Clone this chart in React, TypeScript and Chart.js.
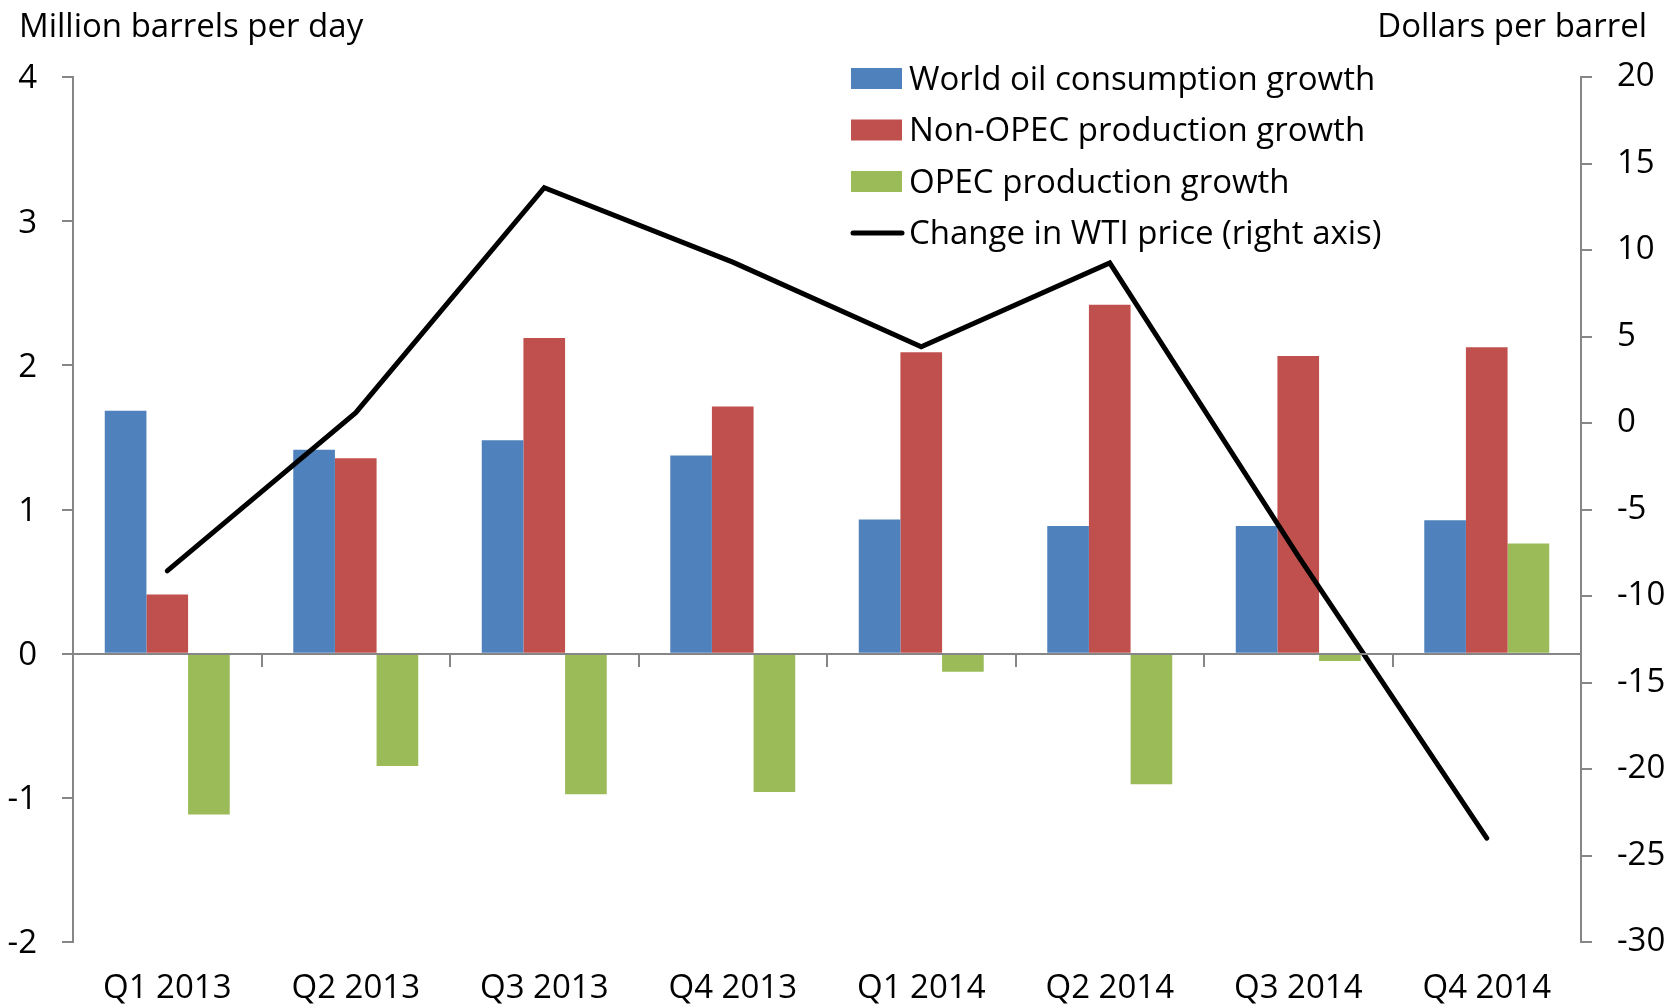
import React, { useEffect, useRef } from 'react';
import { Chart, registerables } from 'chart.js';

Chart.register(...registerables);

const FONT = '"Open Sans"';
const FONT_SIZE = 33;
const categories = ['Q1 2013', 'Q2 2013', 'Q3 2013', 'Q4 2013', 'Q1 2014', 'Q2 2014', 'Q3 2014', 'Q4 2014'];
const worldConsumption = [1.685, 1.415, 1.48, 1.375, 0.93, 0.885, 0.885, 0.925];
const nonOpecProduction = [0.41, 1.355, 2.19, 1.715, 2.09, 2.42, 2.065, 2.125];
const opecProduction = [-1.115, -0.78, -0.975, -0.96, -0.125, -0.905, -0.05, 0.765];
const wtiChange = [-8.55, 0.6, 13.6, 9.3, 4.4, 9.25, -7.7, -24.0];
const seriesNames = [
  'World oil consumption growth',
  'Non-OPEC production growth',
  'OPEC production growth',
  'Change in WTI price (right axis)',
];
const leftTitle = 'Million barrels per day';
const rightTitle = 'Dollars per barrel';

const AXIS_GRAY = '#868686';

const overlayPlugin = {
  id: 'overlayTexts',
  afterDraw(chart: any) {
    const ctx = chart.ctx as CanvasRenderingContext2D;
    ctx.save();
    ctx.font = `${FONT_SIZE}px ${FONT}`;
    ctx.fillStyle = '#000';
    ctx.textBaseline = 'alphabetic';
    // axis titles
    ctx.textAlign = 'left';
    ctx.fillText(leftTitle, 19, 37);
    ctx.textAlign = 'right';
    ctx.fillText(rightTitle, 1647, 37);
    // legend
    ctx.textAlign = 'left';
    const rows = [78.5, 130, 181.5, 233];
    chart.data.datasets.forEach((ds: any, i: number) => {
      const cy = rows[i];
      if (ds.type === 'line') {
        ctx.strokeStyle = ds.borderColor;
        ctx.lineWidth = 5;
        ctx.lineCap = 'round';
        ctx.beginPath();
        ctx.moveTo(853, cy);
        ctx.lineTo(902, cy);
        ctx.stroke();
      } else {
        ctx.fillStyle = ds.backgroundColor;
        ctx.fillRect(851, cy - 10.5, 51, 21);
      }
      ctx.fillStyle = '#000';
      ctx.fillText(ds.label, 909, cy + 11);
    });
    ctx.restore();
  },
};

export default function App() {
  const ref = useRef<HTMLCanvasElement>(null);
  useEffect(() => {
    if (!ref.current) return;
    Chart.defaults.font.family = FONT;
    const tickFont = { size: FONT_SIZE, family: FONT };
    const chart = new Chart(ref.current, {
      type: 'bar',
      data: {
        labels: categories,
        datasets: [
          { type: 'bar', label: seriesNames[0], data: worldConsumption, backgroundColor: '#4F81BD', xAxisID: 'x', yAxisID: 'y' },
          { type: 'bar', label: seriesNames[1], data: nonOpecProduction, backgroundColor: '#C0504D', xAxisID: 'x', yAxisID: 'y' },
          { type: 'bar', label: seriesNames[2], data: opecProduction, backgroundColor: '#9BBB59', xAxisID: 'x', yAxisID: 'y' },
          {
            type: 'line', label: seriesNames[3], data: wtiChange, borderColor: '#000000', backgroundColor: '#000000',
            borderWidth: 5, pointRadius: 0, pointHoverRadius: 0, tension: 0, borderCapStyle: 'round', borderJoinStyle: 'miter',
            xAxisID: 'x', yAxisID: 'y1', order: -1,
          } as any,
        ],
      },
      options: {
        responsive: false,
        animation: false,
        events: [],
        layout: { padding: { top: 77, left: 0, right: 0, bottom: 0 } },
        datasets: { bar: { barPercentage: 1, categoryPercentage: 0.663 } },
        plugins: { legend: { display: false }, tooltip: { enabled: false }, title: { display: false } },
        scales: {
          x: {
            type: 'category',
            position: 'bottom',
            offset: true,
            grid: { display: false, drawTicks: false },
            border: { display: false },
            ticks: { font: tickFont, color: '#000', padding: 27, maxRotation: 0, autoSkip: false },
            afterFit: (s: any) => { s.height = 64; },
          },
          x0: {
            type: 'category',
            position: { y: 0 },
            offset: true,
            grid: { offset: true, drawOnChartArea: false, drawTicks: true, tickLength: 12, color: AXIS_GRAY, lineWidth: 2 },
            border: { display: true, color: AXIS_GRAY, width: 2, z: 1 },
            ticks: { display: false },
            afterFit: (s: any) => { s.height = 0; },
          } as any,
          y: {
            type: 'linear',
            position: 'left',
            min: -2,
            max: 4,
            grid: { drawOnChartArea: false, drawTicks: true, tickLength: 11, color: AXIS_GRAY, lineWidth: 2 },
            border: { display: true, color: AXIS_GRAY, width: 2 },
            ticks: { stepSize: 1, font: tickFont, color: '#000', padding: 25, labelOffset: 2 },
            afterFit: (s: any) => { s.width = 73; },
          },
          y1: {
            type: 'linear',
            position: 'right',
            min: -30,
            max: 20,
            grid: { drawOnChartArea: false, drawTicks: true, tickLength: 11, color: AXIS_GRAY, lineWidth: 2 },
            border: { display: true, color: AXIS_GRAY, width: 2 },
            ticks: { stepSize: 5, font: tickFont, color: '#000', padding: 25, labelOffset: 0 },
            afterFit: (s: any) => { s.width = 88; },
          },
        },
      },
      plugins: [overlayPlugin],
    });
    return () => chart.destroy();
  }, []);
  return (
    <div style={{ position: 'absolute', left: 0, top: 0, width: 1669, height: 1006, background: '#fff' }}>
      <canvas ref={ref} width={1669} height={1006} style={{ display: 'block' }} />
    </div>
  );
}
